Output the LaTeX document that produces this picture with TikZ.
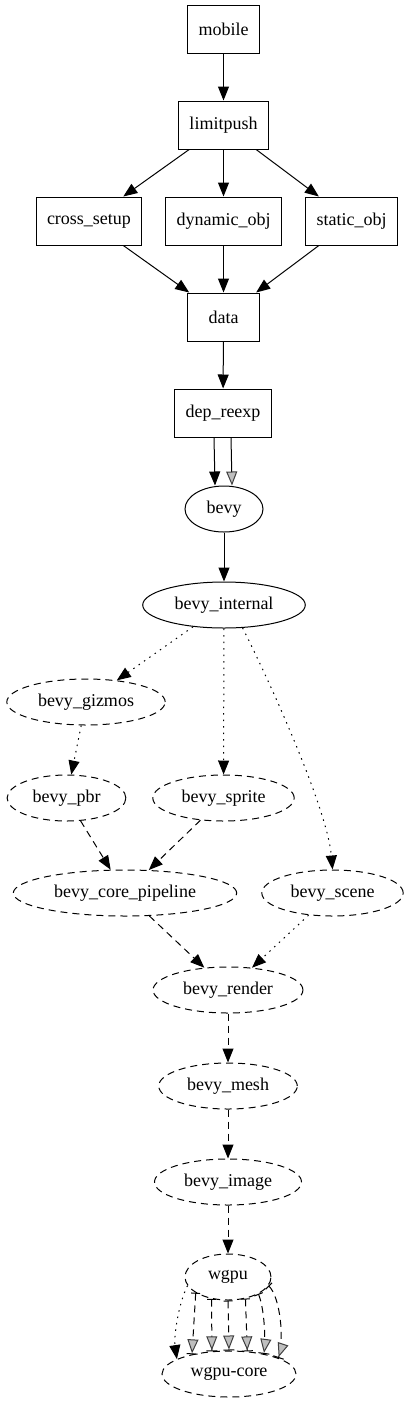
\documentclass[tikz,border=0pt]{standalone}
\usepackage{fontspec}
\setmainfont{Liberation Serif}
\usetikzlibrary{arrows.meta,shapes,positioning}

\begin{document}
\begin{tikzpicture}[x=1pt, y=-1pt, >={Triangle[length=14pt, width=11pt]}, line width=1pt,
  every node/.style={font=\fontsize{18}{21}\selectfont},
  pkg/.style={draw, rectangle, minimum width=72pt, minimum height=48pt, inner xsep=11pt},
  crate/.style={draw, ellipse, minimum width=78pt, minimum height=46pt, inner xsep=8pt, inner ysep=2pt},
  optcrate/.style={crate, dash pattern=on 7pt off 5pt},
  dashedge/.style={->, dash pattern=on 7pt off 5pt},
  dotedge/.style={->, dash pattern=on 1.5pt off 5pt},
  greytip/.style={-{Triangle[length=14pt, width=11pt, fill=lightgray, color=black!75]}},
  reexp/.style={dash pattern=on 7pt off 5pt, {Bar[width=9pt]}-{Triangle[length=14pt, width=11pt, fill=lightgray, color=black!75] Bar[width=11pt]}}]
  \useasboundingbox (0,0) rectangle (410,1403);

  % app crates
  \node[pkg] (mobile) at (223.5,29) {mobile};
  \node[pkg] (limitpush) at (223.5,125) {limitpush};
  \node[pkg] (cross) at (89,221) {cross\_setup};
  \node[pkg] (dynobj) at (223.5,221) {dynamic\_obj};
  \node[pkg] (statobj) at (351.5,221) {static\_obj};
  \node[pkg] (data) at (223.5,317) {data};
  \node[pkg] (depre) at (223,413) {dep\_reexp};

  % bevy crates
  \node[crate] (bevy) at (224,509) {bevy};
  \node[crate] (internal) at (224,605) {bevy\_internal};
  \node[optcrate] (gizmos) at (86,702) {bevy\_gizmos};
  \node[optcrate] (pbr) at (66.5,798) {bevy\_pbr};
  \node[optcrate] (sprite) at (223.5,798) {bevy\_sprite};
  \node[optcrate] (corepipe) at (125,893) {bevy\_core\_pipeline};
  \node[optcrate] (scene) at (332.5,893) {bevy\_scene};
  \node[optcrate] (render) at (228,990) {bevy\_render};
  \node[optcrate] (mesh) at (228,1086) {bevy\_mesh};
  \node[optcrate] (image) at (228,1182) {bevy\_image};
  \node[optcrate, minimum width=86pt] (wgpu) at (228,1277) {wgpu};
  \node[optcrate, minimum width=134pt] (wgpucore) at (229,1374) {wgpu-core};

  % normal deps
  \draw[->] (mobile) -- (limitpush);
  \foreach \n in {cross, dynobj, statobj} {
    \draw[->] (limitpush) -- (\n);
    \draw[->] (\n) -- (data);
  }
  \draw[->] (data) -- (depre);
  \draw[->] ([xshift=-9pt]depre.south) -- ([xshift=-9pt]bevy.north);
  \draw[greytip] ([xshift=8pt]depre.south) -- ([xshift=8pt]bevy.north);
  \draw[->] (bevy) -- (internal);

  % feature deps
  \draw[dotedge] (internal) -- (gizmos);
  \draw[dotedge] (internal) -- (sprite);
  \draw[dotedge] (internal.309) .. controls +(28,55) and +(-5,-60) .. (scene.north);
  \draw[dotedge] (gizmos) -- (pbr);
  \draw[dashedge] (pbr) -- (corepipe);
  \draw[dashedge] (sprite) -- (corepipe);
  \draw[dashedge] (corepipe) -- (render);
  \draw[dotedge] (scene) -- (render);
  \draw[dashedge] (render) -- (mesh);
  \draw[dashedge] (mesh) -- (image);
  \draw[dashedge] (image) -- (wgpu);

  % wgpu -> wgpu-core
  \draw[dotedge] (wgpu.192) .. controls +(-10,20) and +(-3,-20) .. (wgpucore.164);
  \foreach \a/\b in {206/152, 233/127, 270/90, 309/51}
    \draw[reexp] (wgpu.\a) -- (wgpucore.\b);
  \draw[reexp] (wgpu.331) .. controls +(6,15) and +(2,-15) .. (wgpucore.30);
  \draw[reexp] (wgpu.348) .. controls +(12,12) and +(6,-18) .. (wgpucore.18);
\end{tikzpicture}
\end{document}
